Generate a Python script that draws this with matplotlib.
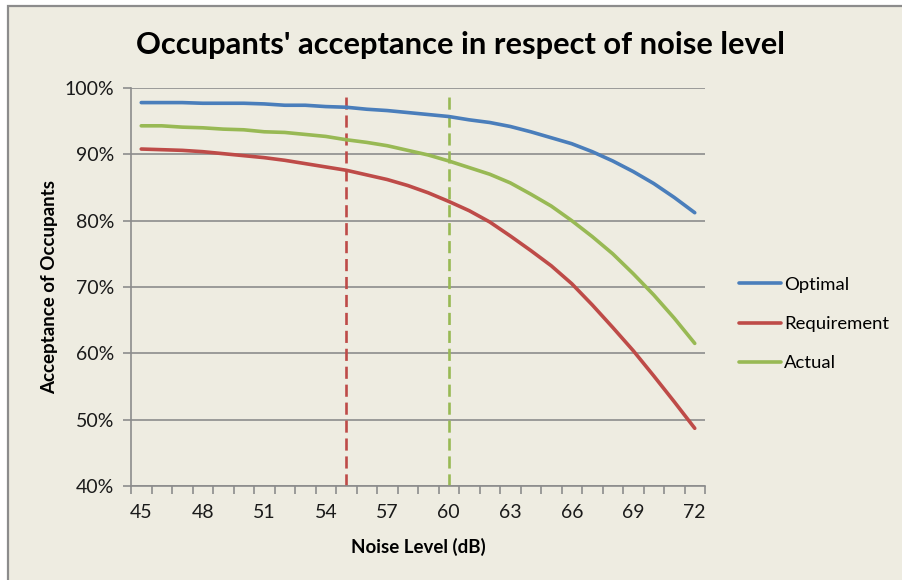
import matplotlib
matplotlib.use("Agg")
import matplotlib.pyplot as plt
from matplotlib.patches import Rectangle
from matplotlib.ticker import FixedLocator, PercentFormatter

plt.rcParams['font.family'] = ['Lato', 'DejaVu Sans']

noise_db = list(range(45, 73))
optimal = [97.8, 97.8, 97.8, 97.7, 97.7, 97.7, 97.6, 97.4, 97.4, 97.2,
           97.1, 96.8, 96.6, 96.3, 96.0, 95.7, 95.2, 94.8, 94.2, 93.4,
           92.5, 91.6, 90.4, 89.0, 87.4, 85.6, 83.5, 81.2]
requirement = [90.8, 90.7, 90.6, 90.4, 90.1, 89.8, 89.5, 89.1, 88.6, 88.1,
               87.6, 86.9, 86.2, 85.3, 84.2, 82.9, 81.5, 79.8, 77.7, 75.5,
               73.2, 70.5, 67.3, 63.9, 60.4, 56.6, 52.7, 48.7]
actual = [94.3, 94.3, 94.1, 94.0, 93.8, 93.7, 93.4, 93.3, 93.0, 92.7,
          92.2, 91.8, 91.3, 90.6, 89.9, 89.0, 88.0, 87.0, 85.7, 84.0,
          82.2, 80.0, 77.6, 75.0, 72.0, 68.8, 65.3, 61.5]
requirement_level = 55
actual_level = 60
marker_span = [40, 99]
xtick_labels = list(range(45, 73, 3))
ytick_values = list(range(40, 101, 10))

BG = '#EEECE1'
BLUE = '#4A7EBB'
RED = '#BE4B48'
GREEN = '#98B954'
GRID = '#8C8C8C'

W, H = 902, 580
fig = plt.figure(figsize=(W / 100, H / 100), dpi=100, facecolor='white')
frame = Rectangle((8 / W, -0.01), 1.0, (H - 6) / H + 0.01,
                  transform=fig.transFigure, facecolor=BG,
                  edgecolor='#8C8C8C', linewidth=1.6, zorder=-10)
fig.add_artist(frame)

left, right, top, bottom = 131, 705, 88, 486
ax = fig.add_axes([left / W, 1 - bottom / H, (right - left) / W, (bottom - top) / H])
ax.set_zorder(1)
ax.set_facecolor(BG)

ax.set_xlim(44.5, 72.5)
ax.set_ylim(40, 100)

ax.yaxis.set_major_locator(FixedLocator(ytick_values))
ax.yaxis.set_major_formatter(PercentFormatter(decimals=0))
ax.grid(axis='y', color=GRID, linewidth=1.2, zorder=1)
ax.set_axisbelow(True)

ax.xaxis.set_major_locator(FixedLocator([v - 0.5 for v in range(45, 74)]))
ax.set_xticklabels([])
ax.xaxis.set_minor_locator(FixedLocator(xtick_labels))
ax.set_xticklabels([str(v) for v in xtick_labels], minor=True)
ax.tick_params(axis='x', which='major', length=6, color=GRID, width=1.2, direction='out')
ax.tick_params(axis='x', which='minor', length=0, pad=13, labelsize=14, labelcolor='#1a1a1a')
ax.tick_params(axis='y', length=6, color=GRID, width=1.2, pad=6, labelsize=14, labelcolor='#1a1a1a')

for side in ['top', 'right']:
    ax.spines[side].set_visible(False)
for side in ['left', 'bottom']:
    ax.spines[side].set_color(GRID)
    ax.spines[side].set_linewidth(1.2)

ax.plot(noise_db, optimal, color=BLUE, linewidth=2.6, label='Optimal', zorder=3,
        solid_capstyle='round')
ax.plot(noise_db, requirement, color=RED, linewidth=2.6, label='Requirement', zorder=3,
        solid_capstyle='round')
ax.plot(noise_db, actual, color=GREEN, linewidth=2.6, label='Actual', zorder=3,
        solid_capstyle='round')

ax.plot([requirement_level, requirement_level], marker_span, color=RED,
        linewidth=1.9, dashes=(4.6, 2.2), zorder=2)
ax.plot([actual_level, actual_level], marker_span, color=GREEN,
        linewidth=1.9, dashes=(4.6, 2.2), zorder=2)

ax.set_xlabel('Noise Level (dB)', fontsize=13.5, fontweight='bold', labelpad=12)
ax.set_ylabel('Acceptance of Occupants', fontsize=13.5, fontweight='bold', labelpad=5)

fig.text(460 / W, 1 - 45 / H, "Occupants' acceptance in respect of noise level",
         ha='center', va='center', fontsize=22.2, fontweight='bold')

leg = ax.legend(loc='center left', bbox_to_anchor=(726 / W, 1 - 324 / H),
                bbox_transform=fig.transFigure, frameon=False, fontsize=13.3,
                handlelength=2.3, handletextpad=0.16, labelspacing=1.27,
                borderpad=0.2)

fig.savefig('out.png', dpi=100, facecolor=fig.get_facecolor())
